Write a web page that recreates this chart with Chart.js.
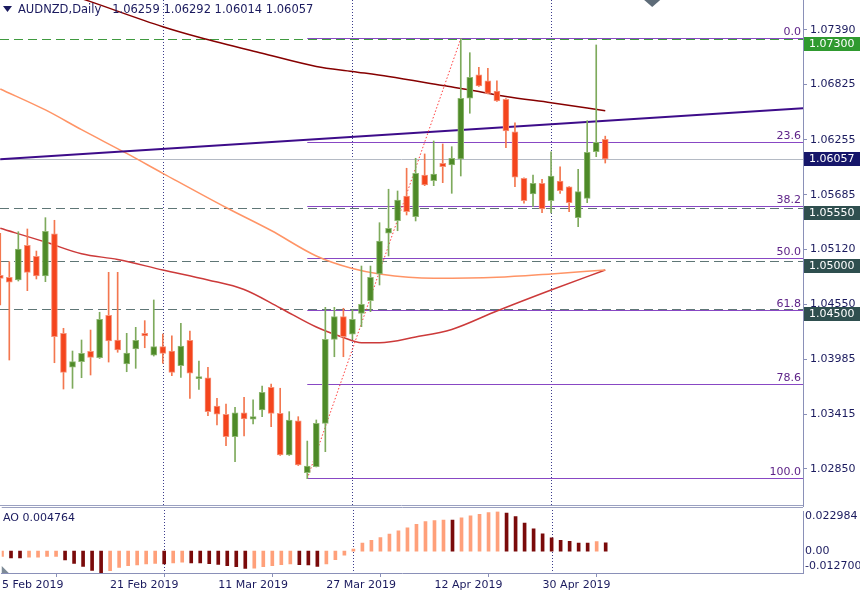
<!DOCTYPE html>
<html>
<head>
<meta charset="utf-8">
<script src="https://cdn.jsdelivr.net/npm/chart.js@4.4.1/dist/chart.umd.min.js"></script>
<style>
  body { margin: 0; background: #fff; width: 860px; height: 597px; overflow: hidden; position: relative; }
  canvas { position: absolute; left: 0; }
  #main { top: 0; }
  #ao { top: 507px; }
</style>
</head>
<body>
<canvas id="main" width="860" height="507"></canvas>
<canvas id="ao" width="860" height="90"></canvas>
<script>
// AUDNZD daily candles, 5 Feb 2019 .. 9 May 2019 (bar index 0..67)
const opens = [1.04853,1.04832,1.04805,1.05163,1.05050,1.04846,1.05283,1.04253,1.03902,1.03960,
  1.04067,1.04001,1.04439,1.04184,1.03936,1.04091,1.04253,1.04026,1.04115,1.04070,
  1.03918,1.04181,1.03784,1.03794,1.03501,1.03416,1.03184,1.03432,1.03364,1.03460,
  1.03695,1.03426,1.02995,1.03349,1.02812,1.02874,1.03322,1.04191,1.04425,1.04244,
  1.04460,1.04590,1.04867,1.05288,1.05418,1.05673,1.05459,1.05890,1.05832,1.06011,
  1.05994,1.06056,1.06684,1.06925,1.06863,1.06759,1.06673,1.06338,1.05856,1.05694,
  1.05805,1.05625,1.05828,1.05769,1.05449,1.05649,1.06131,1.06259];
const highs = [1.05288,1.04994,1.05304,1.05332,1.05104,1.05449,1.05422,1.04305,1.04070,1.04184,
  1.04287,1.04471,1.04884,1.04884,1.04253,1.04315,1.04384,1.04598,1.04246,1.04228,
  1.04357,1.04277,1.03967,1.03902,1.03581,1.03522,1.03488,1.03591,1.03564,1.03708,
  1.03729,1.03685,1.03443,1.03391,1.03139,1.03357,1.04522,1.04522,1.04512,1.04494,
  1.04949,1.04949,1.05397,1.05743,1.05725,1.05960,1.06063,1.06108,1.06242,1.06211,
  1.06183,1.07300,1.07155,1.07004,1.06994,1.06863,1.06680,1.06431,1.05860,1.05890,
  1.05846,1.06131,1.05976,1.05771,1.05949,1.06452,1.07235,1.06292];
const lows = [1.04546,1.03977,1.04794,1.04694,1.04815,1.04787,1.03949,1.03677,1.03684,1.03794,
  1.03822,1.03993,1.03956,1.04057,1.03856,1.03891,1.04104,1.04018,1.03943,1.03815,
  1.03798,1.03579,1.03674,1.03401,1.03305,1.03091,1.02925,1.03191,1.03315,1.03391,
  1.03287,1.02990,1.02990,1.02886,1.02750,1.02871,1.03029,1.04011,1.04011,1.04191,
  1.04322,1.04477,1.04753,1.05053,1.05314,1.05477,1.05415,1.05780,1.05780,1.05811,
  1.05701,1.05880,1.06529,1.06806,1.06728,1.06651,1.06173,1.05769,1.05598,1.05563,
  1.05500,1.05497,1.05701,1.05511,1.05356,1.05604,1.06080,1.06014];
const closes = [1.04822,1.04781,1.05125,1.04884,1.04846,1.05308,1.04218,1.03850,1.03960,1.04046,
  1.04005,1.04398,1.04174,1.04081,1.04050,1.04181,1.04225,1.04115,1.04046,1.03850,
  1.04122,1.03840,1.03798,1.03443,1.03416,1.03184,1.03432,1.03367,1.03391,1.03643,
  1.03426,1.02995,1.03357,1.02891,1.02881,1.03322,1.04191,1.04425,1.04218,1.04399,
  1.04553,1.04832,1.05208,1.05339,1.05632,1.05511,1.05908,1.05787,1.05901,1.05976,
  1.06063,1.06684,1.06901,1.06811,1.06735,1.06656,1.06346,1.05867,1.05625,1.05805,
  1.05539,1.05880,1.05728,1.05604,1.05718,1.06125,1.06229,1.06057];

// Awesome Oscillator per bar
const aoValues = [-0.00314,-0.00393,-0.00400,-0.00354,-0.00350,-0.00314,-0.00310,-0.00511,-0.00707,-0.00884,
  -0.01120,-0.01270,-0.01139,-0.00943,-0.00845,-0.00805,-0.00746,-0.00707,-0.00746,-0.00687,
  -0.00648,-0.00687,-0.00690,-0.00727,-0.00766,-0.00845,-0.00903,-0.01002,-0.00990,-0.00903,
  -0.00845,-0.00786,-0.00746,-0.00786,-0.00805,-0.00884,-0.00746,-0.00491,-0.00236,0.00120,
  0.00471,0.00628,0.00786,0.00982,0.01178,0.01355,0.01552,0.01709,0.01768,0.01807,
  0.01800,0.01925,0.02043,0.02141,0.02239,0.022984,0.02200,0.02003,0.01630,0.01296,
  0.01002,0.00766,0.00628,0.00570,0.00471,0.00465,0.00550,0.004764];

// moving averages (bar index, price)
const maSlowIdx = [0,10,18,22,29,35,39,43,49,53,56,61,67];
const maSlow = [1.08000,1.07683,1.07424,1.07315,1.07149,1.07013,1.06961,1.06909,1.06816,1.06754,1.06702,1.06638,1.06555];
const maMidIdx = [0,5,9,14,18,25,30,35,39,42,48,55,61,67];
const maMid = [1.06780,1.06563,1.06359,1.06113,1.05908,1.05554,1.05316,1.05053,1.04923,1.04867,1.04822,1.04832,1.04867,1.04908];
const maFastIdx = [0,5,9,13,18,23,27,31,35,38,40,42,46,50,55,61,67];
const maFast = [1.05339,1.05197,1.05075,1.05017,1.04908,1.04805,1.04706,1.04515,1.04318,1.04210,1.04156,1.04156,1.04215,1.04293,1.04484,1.04701,1.04908];

// drawn objects
const trendIdx = [0, 89];
const trendVal = [1.06052, 1.06582];
const fibLowIdx = 34, fibLow = 1.0275;
const fibHighIdx = 51, fibHigh = 1.0730;
const fibLevels = [0, 23.6, 38.2, 50, 61.8, 78.6, 100];
const hLevels = [1.07300, 1.05550, 1.05000, 1.04500];
const hLevelColors = ['#3f9a3f', '#5f7676', '#5f7676', '#5f7676'];
const hLevelBoxColors = ['#2f9a2f', '#2f4f4f', '#2f4f4f', '#2f4f4f'];
const bidPrice = 1.06057;
const separatorIdx = [18, 39, 61];
const shiftIdx = 72.2;

// axes
const priceTicks = [1.02850,1.03415,1.03985,1.04550,1.05120,1.05685,1.06255,1.06825,1.07390];
const xTickIdx = [0, 12, 24, 36, 48, 60];
const xTickLabels = ['5 Feb 2019', '21 Feb 2019', '11 Mar 2019', '27 Mar 2019', '12 Apr 2019', '30 Apr 2019'];

const X_MIN = -0.03, X_MAX = 88.9;
const Y_MIN = 1.02457, Y_MAX = 1.07700;
const FONT = '"DejaVu Sans", sans-serif';
const TEXT = '#1a1a5e';
const AXIS = '#8a90b8';

const bars = opens.map((_, i) => i);
const isUp = i => closes[i] >= opens[i];
const pts = (xs, ys) => xs.map((x, i) => ({x: x, y: ys[i]}));

const mtDecor = {
  id: 'mtDecor',
  beforeDatasetsDraw(chart) {
    const {ctx, chartArea: ca, scales: {x, y}} = chart;
    ctx.save();
    // month separators
    ctx.strokeStyle = '#3c3c8c'; ctx.lineWidth = 1; ctx.setLineDash([1, 2]);
    separatorIdx.forEach(i => {
      const px = Math.round(x.getPixelForValue(i)) + 0.5;
      ctx.beginPath(); ctx.moveTo(px, ca.top); ctx.lineTo(px, ca.bottom); ctx.stroke();
    });
    // bid line
    ctx.setLineDash([]); ctx.strokeStyle = '#b4bac4';
    let py = Math.round(y.getPixelForValue(bidPrice)) + 0.5;
    ctx.beginPath(); ctx.moveTo(ca.left, py); ctx.lineTo(ca.right, py); ctx.stroke();
    // horizontal levels
    ctx.setLineDash([9, 5]);
    hLevels.forEach((v, k) => {
      ctx.strokeStyle = hLevelColors[k];
      const ly = Math.round(y.getPixelForValue(v)) + 0.5;
      ctx.beginPath(); ctx.moveTo(ca.left, ly); ctx.lineTo(ca.right, ly); ctx.stroke();
    });
    // fibonacci levels
    ctx.setLineDash([]); ctx.strokeStyle = '#8848c4';
    const fx = x.getPixelForValue(fibLowIdx);
    fibLevels.forEach(l => {
      const ly = Math.round(y.getPixelForValue(fibHigh - (fibHigh - fibLow) * l / 100)) - 0.5;
      ctx.beginPath(); ctx.moveTo(fx, ly); ctx.lineTo(ca.right, ly); ctx.stroke();
    });
    ctx.restore();
  },
  afterDraw(chart) {
    const {ctx, chartArea: ca, scales: {x, y}} = chart;
    ctx.save();
    ctx.font = '11px ' + FONT;
    // fib labels
    ctx.fillStyle = '#5e2388'; ctx.textAlign = 'right'; ctx.textBaseline = 'bottom';
    fibLevels.forEach(l => {
      const ly = y.getPixelForValue(fibHigh - (fibHigh - fibLow) * l / 100);
      ctx.fillText(l.toFixed(1), ca.right - 2, ly - 1);
    });
    // price boxes on the axis
    ctx.textAlign = 'left'; ctx.textBaseline = 'middle';
    hLevels.forEach((v, k) => {
      const ly = Math.round(y.getPixelForValue(v));
      ctx.fillStyle = hLevelBoxColors[k];
      ctx.fillRect(ca.right + 1, ly - 2, 60, 14);
      ctx.fillStyle = '#ffffff';
      ctx.fillText(v.toFixed(5), ca.right + 6, ly + 5);
    });
    const by = Math.round(y.getPixelForValue(bidPrice));
    ctx.fillStyle = '#16166a';
    ctx.fillRect(ca.right + 1, by - 7, 60, 14);
    ctx.fillStyle = '#ffffff';
    ctx.fillText(bidPrice.toFixed(5), ca.right + 6, by);
    // header
    ctx.fillStyle = TEXT;
    ctx.beginPath(); ctx.moveTo(3, 6); ctx.lineTo(12, 6); ctx.lineTo(7.5, 12); ctx.closePath(); ctx.fill();
    ctx.font = '11.5px ' + FONT;
    ctx.fillText('AUDNZD,Daily   ' + [opens[67], highs[67], lows[67], closes[67]].map(v => v.toFixed(5)).join(' '), 18, 10);
    // chart shift marker
    const sx = x.getPixelForValue(shiftIdx);
    ctx.fillStyle = '#5d6b78';
    ctx.beginPath(); ctx.moveTo(sx - 8, 0); ctx.lineTo(sx + 8, 0); ctx.lineTo(sx, 7); ctx.closePath(); ctx.fill();
    // panel separator
    ctx.strokeStyle = '#9aa0c0'; ctx.lineWidth = 1;
    ctx.beginPath(); ctx.moveTo(ca.left, ca.bottom - 1.5); ctx.lineTo(ca.right, ca.bottom - 1.5); ctx.stroke();
    ctx.restore();
  }
};

new Chart(document.getElementById('main'), {
  type: 'bar',
  data: {
    datasets: [
      { type: 'bar', label: 'body', data: bars.map(i => ({x: i, y: [opens[i], closes[i]]})),
        backgroundColor: bars.map(i => isUp(i) ? '#4e8a28' : '#f4451d'),
        borderColor: bars.map(i => isUp(i) ? '#8fb872' : '#f7937a'),
        borderWidth: 1, borderSkipped: false, barThickness: 6, minBarLength: 2, grouped: false, order: 1 },
      { type: 'bar', label: 'wick', data: bars.map(i => ({x: i, y: [lows[i], highs[i]]})),
        backgroundColor: bars.map(i => isUp(i) ? '#7eaa5c' : '#f3774f'),
        borderWidth: 0, barThickness: 1, grouped: false, order: 2 },
      { type: 'line', label: 'fib trend', data: [{x: fibLowIdx, y: fibLow}, {x: fibHighIdx, y: fibHigh}],
        borderColor: '#ff3b3b', borderWidth: 1, borderDash: [1.5, 2], pointRadius: 0, order: 3 },
      { type: 'line', label: 'trend', data: pts(trendIdx, trendVal),
        borderColor: '#3d0c8a', borderWidth: 2, pointRadius: 0, order: 4 },
      { type: 'line', label: 'MA slow', data: pts(maSlowIdx, maSlow),
        borderColor: '#860000', borderWidth: 1.5, pointRadius: 0, cubicInterpolationMode: 'monotone', order: 5 },
      { type: 'line', label: 'MA mid', data: pts(maMidIdx, maMid),
        borderColor: '#ff9466', borderWidth: 1.5, pointRadius: 0, cubicInterpolationMode: 'monotone', order: 6 },
      { type: 'line', label: 'MA fast', data: pts(maFastIdx, maFast),
        borderColor: '#cc3a3a', borderWidth: 1.5, pointRadius: 0, cubicInterpolationMode: 'monotone', order: 7 }
    ]
  },
  options: {
    responsive: false, animation: false, devicePixelRatio: 1,
    layout: { padding: 0 },
    plugins: { legend: { display: false }, tooltip: { enabled: false } },
    scales: {
      x: { type: 'linear', min: X_MIN, max: X_MAX, offset: false, display: false },
      y: {
        position: 'right', min: Y_MIN, max: Y_MAX,
        afterBuildTicks: s => { s.ticks = priceTicks.map(v => ({value: v})); },
        ticks: { color: TEXT, font: { family: FONT, size: 11 }, padding: 3, callback: v => Number(v).toFixed(5) },
        grid: { drawOnChartArea: false, tickLength: 4, color: AXIS },
        border: { color: AXIS },
        afterFit: s => { s.width = 57; s.paddingTop = 0; s.paddingBottom = 0; }
      }
    }
  },
  plugins: [mtDecor]
});

const aoMax = Math.max(...aoValues), aoMin = Math.min(...aoValues);

const aoDecor = {
  id: 'aoDecor',
  beforeDatasetsDraw(chart) {
    const {ctx, chartArea: ca, scales: {x}} = chart;
    ctx.save();
    ctx.strokeStyle = '#3c3c8c'; ctx.lineWidth = 1; ctx.setLineDash([1, 2]);
    separatorIdx.forEach(i => {
      const px = Math.round(x.getPixelForValue(i)) + 0.5;
      ctx.beginPath(); ctx.moveTo(px, 0); ctx.lineTo(px, ca.bottom); ctx.stroke();
    });
    ctx.restore();
  },
  afterDraw(chart) {
    const {ctx, chartArea: ca, scales: {y}} = chart;
    ctx.save();
    ctx.strokeStyle = '#9aa0c0'; ctx.lineWidth = 1;
    ctx.beginPath(); ctx.moveTo(ca.left, 0.5); ctx.lineTo(ca.right, 0.5); ctx.stroke();
    ctx.font = '11px ' + FONT; ctx.fillStyle = TEXT;
    ctx.textAlign = 'left'; ctx.textBaseline = 'middle';
    ctx.fillText('AO ' + aoValues[aoValues.length - 1].toFixed(6), 3, 11);
    ctx.fillText(aoMax.toFixed(6), ca.right + 2, y.getPixelForValue(aoMax) + 5);
    ctx.fillText('0.00', ca.right + 2, y.getPixelForValue(0));
    ctx.fillText(aoMin.toFixed(6), ca.right + 2, y.getPixelForValue(aoMin) - 7);
    // scroll marker
    ctx.fillStyle = '#7d8a96';
    ctx.beginPath(); ctx.moveTo(ca.left, ca.bottom - 7); ctx.lineTo(ca.left + 7, ca.bottom); ctx.lineTo(ca.left, ca.bottom); ctx.closePath(); ctx.fill();
    ctx.restore();
  }
};

new Chart(document.getElementById('ao'), {
  type: 'bar',
  data: {
    datasets: [{
      label: 'AO', data: bars.map(i => ({x: i, y: aoValues[i]})),
      backgroundColor: bars.map(i => (i > 0 && aoValues[i] < aoValues[i - 1]) ? '#7a0a0a' : '#ffa07a'),
      borderWidth: 0, barThickness: 3
    }]
  },
  options: {
    responsive: false, animation: false, devicePixelRatio: 1,
    layout: { padding: { top: 4.5, left: 0, right: 0, bottom: 0 } },
    plugins: { legend: { display: false }, tooltip: { enabled: false } },
    scales: {
      x: {
        type: 'linear', min: X_MIN, max: X_MAX, offset: false,
        afterBuildTicks: s => { s.ticks = xTickIdx.map(v => ({value: v})); },
        ticks: { autoSkip: false, maxRotation: 0, align: 'start', padding: 2, color: TEXT,
          font: { family: FONT, size: 11 }, callback: (v, k) => xTickLabels[k] },
        grid: { drawOnChartArea: false, tickLength: 4, color: AXIS },
        border: { color: AXIS },
        afterFit: s => { s.height = 24; }
      },
      y: {
        position: 'right', min: aoMin, max: aoMax,
        ticks: { display: false }, grid: { display: false },
        border: { color: AXIS },
        afterFit: s => { s.width = 57; }
      }
    }
  },
  plugins: [aoDecor]
});
</script>
</body>
</html>
